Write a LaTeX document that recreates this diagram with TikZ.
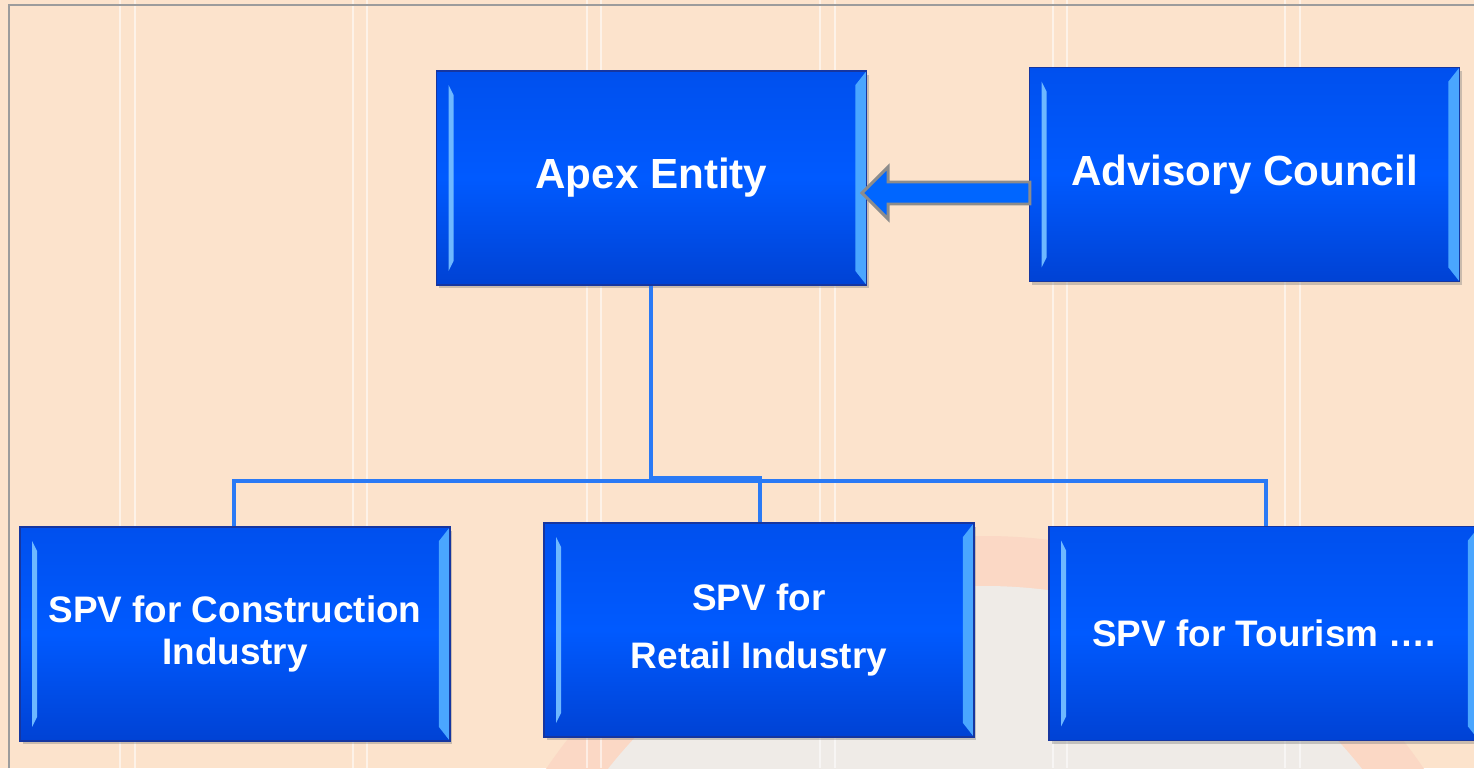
\documentclass[tikz,border=0pt]{standalone}
\usepackage{fontspec}
\setmainfont{Liberation Sans}
\usetikzlibrary{calc,shadows}
\definecolor{bgpeach}{HTML}{FCE3CC}
\definecolor{ringsalmon}{HTML}{FBD8C5}
\definecolor{innergray}{HTML}{EFEBE7}
\definecolor{boxtop}{HTML}{0050EE}
\definecolor{boxmid}{HTML}{005AFF}
\definecolor{boxbot}{HTML}{0042D4}
\definecolor{boxedge}{HTML}{1636A0}
\definecolor{bevel}{HTML}{4AA6FF}
\definecolor{connblue}{HTML}{2A7AF5}
\definecolor{arrowfill}{HTML}{0066FF}
\definecolor{arrowgray}{HTML}{8C8C8C}
\definecolor{framegray}{HTML}{9C9C9C}
\tikzset{
  orgbox/.style={
    rectangle, minimum width=8.6cm, minimum height=4.28cm, inner sep=0pt,
    draw=boxedge, line width=0.8pt,
    top color=boxtop, bottom color=boxbot, middle color=boxmid,
    text=white, font=\bfseries\fontsize{24}{28}\selectfont, align=center,
    drop shadow={shadow xshift=0.05cm, shadow yshift=-0.07cm, opacity=0.4},
    path picture={
      \fill[bevel]
        (path picture bounding box.north east) --
        ($(path picture bounding box.north east)+(-11,14)$) --
        ($(path picture bounding box.south east)+(-11,-14)$) --
        (path picture bounding box.south east) -- cycle;
      \fill[bevel!80!white]
        ($(path picture bounding box.north west)+(12,14)$) --
        ($(path picture bounding box.north west)+(17,24)$) --
        ($(path picture bounding box.south west)+(17,-24)$) --
        ($(path picture bounding box.south west)+(12,-14)$) -- cycle;
    }
  },
  spvtext/.style={font=\bfseries\fontsize{21}{24}\selectfont},
  connector/.style={draw=connblue, line width=2.2pt},
  blockarrow/.style={fill=arrowfill, draw=arrowgray, line width=1.7pt, line join=miter},
  gridline/.style={draw=white, opacity=0.55, line width=0.6pt}
}
\begin{document}
\begin{tikzpicture}[x=0.02cm, y=-0.02cm]
\useasboundingbox (0,0) rectangle (1474,768);
% background
\begin{scope}
  \clip (0,0) rectangle (1474,768);
  \fill[bgpeach] (0,0) rectangle (1474,768);
  \fill[ringsalmon] (985,1066) circle (530);
  \fill[innergray] (985,1066) circle (480);
  \foreach \gx in {120,135,353,367,587,601,820,835,1053,1067,1285,1300}
    \draw[gridline] (\gx,0) -- (\gx,768);
  \draw[framegray, line width=1.2pt] (9,768) -- (9,5) -- (1474,5);
\end{scope}

% boxes
\node[orgbox] (apex) at (651.5,178) {Apex Entity};
\node[orgbox] (council) at (1244.5,174.5) {Advisory Council};
\node[orgbox, spvtext] (constr) at (235,634) {SPV for Construction\\Industry};
\node[orgbox, spvtext] (retail) at (759,630) {SPV for\\[9pt]Retail Industry};
\node[orgbox, spvtext] (tour) at (1264,633.5) {SPV for Tourism \dots.};

% connectors
\coordinate (bus1) at (651,478);
\coordinate (bus1r) at (760,478);
\coordinate (busL) at (234,481);
\coordinate (busR) at (1266,481);
\draw[connector] (apex.south -| bus1) -- (bus1) -- (bus1r) -- (retail.north -| bus1r);
\draw[connector] (constr.north -| busL) -- (busL) -- (busR) -- (tour.north -| busR);

% block arrow from council to apex
\coordinate (tip) at (862,193);
\coordinate (tail) at ($(council.west |- tip)+(1,0)$);
\draw[blockarrow] (tip) -- ($(tip)+(26,-26)$) -- ($(tip)+(26,-11)$) --
  ($(tail)+(0,-11)$) -- ($(tail)+(0,11)$) -- ($(tip)+(26,11)$) --
  ($(tip)+(26,26)$) -- cycle;
\end{tikzpicture}
\end{document}
